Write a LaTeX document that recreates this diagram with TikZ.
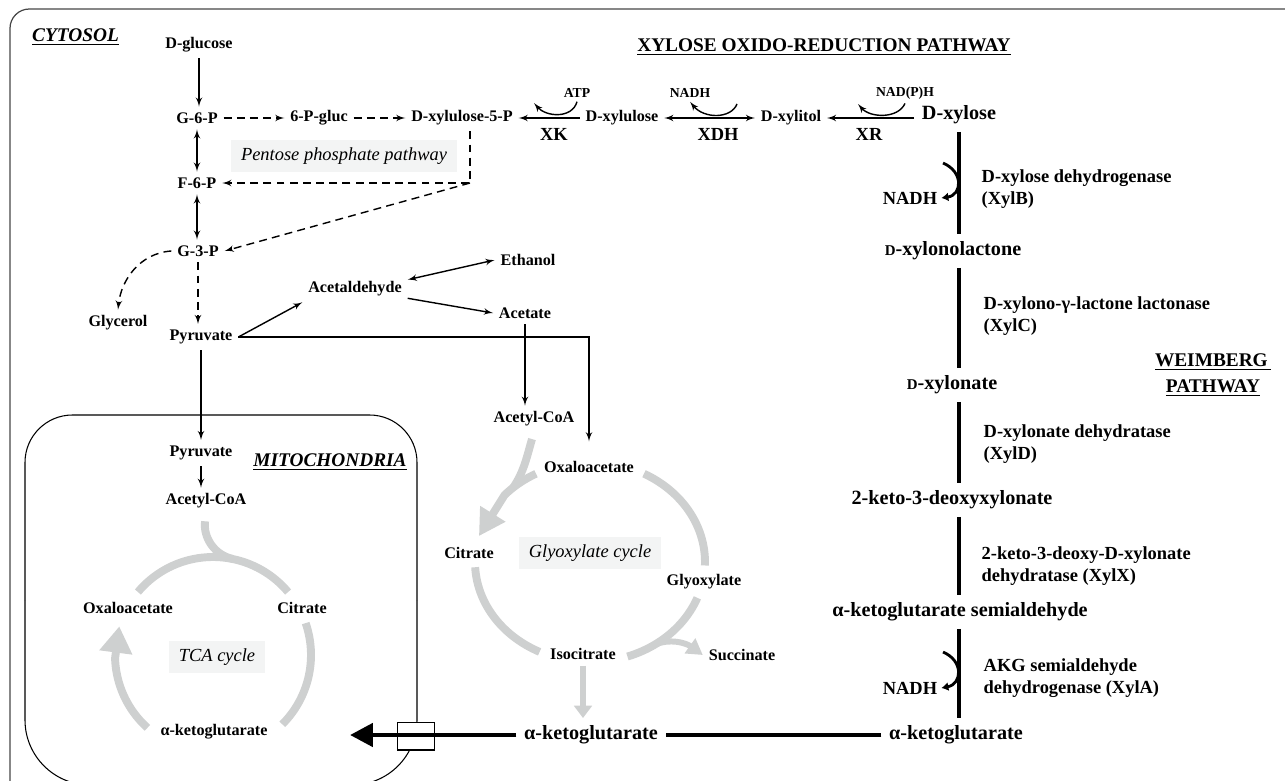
\documentclass[tikz,border=0pt]{standalone}
\usepackage{fontspec}
\setmainfont{Liberation Serif}
\usetikzlibrary{arrows}
\usetikzlibrary{arrows.meta}
\definecolor{cgrey}{RGB}{206,208,208}
\definecolor{cbox}{RGB}{243,244,244}
\definecolor{cframe}{RGB}{70,70,70}
\tikzset{
    lbl/.style={font=\bfseries\fontsize{9.2}{11}\selectfont, inner sep=3pt},
    biglbl/.style={font=\bfseries\fontsize{11.5}{13}\selectfont, inner sep=4pt},
    cofac/.style={font=\bfseries\fontsize{7.8}{9}\selectfont, inner sep=2pt},
    enzk/.style={font=\bfseries\fontsize{10.5}{12}\selectfont, inner sep=2pt},
    enz/.style={font=\bfseries\fontsize{10.5}{12.5}\selectfont, inner sep=0pt, align=left, anchor=west},
    ttl/.style={font=\bfseries\fontsize{11}{14.7}\selectfont, inner sep=2pt},
    pway/.style={font=\itshape\fontsize{10.5}{12}\selectfont, fill=cbox, inner xsep=5.5pt, minimum height=18pt},
    ppdash/.style={dash pattern=on 4.5pt off 3pt},
    cyc/.style={cgrey, line width=4.5pt},
    wline/.style={line width=2.7pt},
    akline/.style={line width=2.8pt},
    wcurl/.style={line width=1.6pt, -{Latex[length=4pt,width=5pt]}}
}
\begin{document}
\begin{tikzpicture}[x=0.02cm, y=-0.02cm, line width=0.8pt]
    \useasboundingbox (0,0) rectangle (1285,781);
    \draw[cframe, line width=0.7pt, rounded corners=11pt] (10,800) |- (1300,9);
    \draw[line width=0.6pt, rounded corners=27pt] (25,600) |- (417,415) -- (417,600);
    \draw[line width=0.6pt, rounded corners=37pt] (25,600) |- (417,785) -- (417,600);

    \node[ttl, anchor=west] (cyt) at (28,37) {\itshape\underline{CYTOSOL}};
    \node[ttl] (xortitle) at (824,47) {\underline{XYLOSE OXIDO-REDUCTION PATHWAY}};
    \node[ttl, align=center] (wbtitle) at (1213,375) {\underline{WEIMBERG\,}\\\underline{PATHWAY}};
    \node[ttl] (mito) at (330,462) {\itshape\underline{MITOCHONDRIA}};

    \node[lbl] (glc) at (199,45) {D-glucose};
    \node[lbl] (g6p) at (197,118) {G-6-P};
    \node[lbl] (p6g) at (319,118) {6-P-gluc};
    \node[lbl] (xu5p) at (462,118) {D-xylulose-5-P};
    \node[lbl] (xu) at (622,118) {D-xylulose};
    \node[lbl] (xol) at (791,118) {D-xylitol};
    \node[biglbl] (xyl) at (959,115) {D-xylose};
    \node[cofac] (atp) at (577,93) {ATP};
    \node[cofac] (nadh0) at (690,93) {NADH};
    \node[cofac] (nadph) at (905,93) {NAD(P)H};
    \node[enzk] (xk) at (554,134) {XK};
    \node[enzk] (xdh) at (718,134) {XDH};
    \node[enzk] (xr) at (869,134) {XR};
    \node[pway] (ppp) at (344,156) {Pentose phosphate pathway};
    \node[lbl] (f6p) at (197,183) {F-6-P};
    \node[lbl] (g3p) at (198,251) {G-3-P};
    \node[lbl] (glyc) at (118,323) {Glycerol};
    \node[lbl] (pyr) at (201,337) {Pyruvate};
    \node[lbl] (acald) at (355,289) {Acetaldehyde};
    \node[lbl] (eth) at (528,260) {Ethanol};
    \node[lbl] (acet) at (525,313) {Acetate};
    \node[lbl] (acoa2) at (534,419) {Acetyl-CoA};
    \node[lbl] (oaa2) at (589,467) {Oxaloacetate};
    \node[lbl] (cit2) at (469,553) {Citrate};
    \node[pway] (glxc) at (590,553) {Glyoxylate cycle};
    \node[lbl] (glx) at (704,582) {Glyoxylate};
    \node[lbl] (icit) at (583,654) {Isocitrate};
    \node[lbl] (succ) at (742,655) {Succinate};
    \node[lbl] (pyr2) at (201,453) {Pyruvate};
    \node[lbl] (acoa1) at (206,501) {Acetyl-CoA};
    \node[lbl] (oaa1) at (128,608) {Oxaloacetate};
    \node[lbl] (cit1) at (302,608) {Citrate};
    \node[pway] (tca) at (217,657) {TCA cycle};
    \node[lbl] (akg1) at (214,732) {α-ketoglutarate};
    \node[biglbl] (akg2) at (591,735) {α-ketoglutarate};
    \node[biglbl] (akg3) at (956,735) {α-ketoglutarate};

    \node[biglbl] (xlac) at (953,251) {{\fontsize{8.5}{10}\selectfont D}-xylonolactone};
    \node[biglbl] (xylnt) at (952,385) {{\fontsize{8.5}{10}\selectfont D}-xylonate};
    \node[biglbl] (kdx) at (952,500) {2-keto-3-deoxyxylonate};
    \node[biglbl] (aks) at (960,612) {α-ketoglutarate semialdehyde};
    \node[enzk] (nadh1) at (910,198) {NADH};
    \node[enzk] (nadh2) at (910,688) {NADH};
    \node[enz] (xylb) at (981,189) {D-xylose dehydrogenase\\(XylB)};
    \node[enz] (xylc) at (983,316) {D-xylono-γ-lactone lactonase\\(XylC)};
    \node[enz] (xyld) at (983,444) {D-xylonate dehydratase\\(XylD)};
    \node[enz] (xylx) at (981,566) {2-keto-3-deoxy-D-xylonate\\dehydratase (XylX)};
    \node[enz] (xyla) at (983,678) {AKG semialdehyde\\dehydrogenase (XylA)};

    \coordinate (pcorner) at (470,183);
    \coordinate (atpend) at (534,103);
    \coordinate (nadhbeg) at (737,104);
    \coordinate (xrend) at (858,104);
    \coordinate (wbeg1) at (943,163);
    \coordinate (wbeg2) at (943,652);
    \coordinate (akgtip) at (350,735);

    \draw[-latex'] (glc.south) -- (glc.south |- g6p.north);
    \draw[latex'-latex'] (g6p.south) -- (f6p.north);
    \draw[latex'-latex'] (f6p.south) -- (f6p.south |- g3p.north);
    \draw[ppdash, -latex'] (g6p) -- (p6g);
    \draw[ppdash, -latex'] (p6g) -- (xu5p);
    \draw[ppdash, -latex'] (xu5p.south -| pcorner) -- (pcorner) -- (f6p.east);
    \draw[ppdash, -latex'] (pcorner) -- (g3p.east);
    \draw[ppdash, -latex'] (g3p.west) .. controls (140,253) and (121,280) .. (glyc.north);
    \draw[ppdash, -latex'] (g3p.south) -- (g3p.south |- pyr.north);

    \draw[-latex'] (xu) -- (xu5p);
    \draw[latex'-latex'] (xu) -- (xol);
    \draw[-latex'] (xyl.west |- xol) -- (xol.east);
    \draw[-latex'] (atp.south) .. controls (572,119) and (546,117) .. (atpend);
    \draw[-latex'] (nadhbeg) .. controls (731,119) and (704,119) .. (nadh0.south);
    \draw[-latex'] (nadph.south) .. controls (898,119) and (870,118) .. (xrend);

    \draw[-latex'] (pyr.east) -- (acald.south west);
    \draw[latex'-latex'] (acald.10) -- (eth.west);
    \draw[-latex'] (acald.-10) -- (acet.west);
    \draw[-latex'] (acet.south) -- (acet.south |- acoa2.north);
    \draw[-latex', shorten >=8pt] (pyr.east) -| (oaa2.north);
    \draw[-latex'] (pyr.south) -- (pyr2.north);
    \draw[-latex'] (pyr2.south) -- (pyr2.south |- acoa1.north);

    \draw[cyc] plot[domain=220:320, samples=40] ({213+98*cos(\x)},{655+98*sin(\x)});
    \draw[cyc] plot[domain=-19:45, samples=30] ({213+98*cos(\x)},{655+98*sin(\x)});
    \draw[cyc, -{Triangle[length=15pt,width=18pt]}] plot[domain=132:178, samples=25] ({213+98*cos(\x)},{655+98*sin(\x)}) -- ({213+98*cos(197)},{655+98*sin(197)});
    \draw[cyc, shorten <=4pt] (acoa1.south) .. controls (203,537) and (214,555) .. (233,559);

    \draw[cyc] plot[domain=-62:2, samples=30] ({590+115*cos(\x)},{562+100*sin(\x)});
    \draw[cyc] plot[domain=21:71, samples=25] ({590+115*cos(\x)},{562+100*sin(\x)});
    \draw[cyc] plot[domain=116:177, samples=30] ({590+115*cos(\x)},{562+100*sin(\x)});
    \draw[cyc, {Triangle[length=15pt,width=16pt]}-] ({590+115*cos(195)},{562+100*sin(195)}) -- plot[domain=222:242, samples=10] ({590+115*cos(\x)},{562+100*sin(\x)});
    \draw[cyc, shorten <=4pt] (acoa2.south) .. controls (527,456) and (524,472) .. ({590+115*cos(228)},{562+100*sin(228)});
    \draw[cyc, line width=3.4pt, -{Triangle[length=9pt,width=10pt]}] ({590+115*cos(56)},{562+100*sin(56)}) .. controls (670,638) and (686,643) .. (succ.west);
    \draw[cyc, line width=3.6pt, -{Triangle[length=7pt,width=10pt]}] (icit.south) -- (icit.south |- akg2.north);

    \draw[wline] (xyl.south) -- (xyl.south |- xlac.north);
    \draw[wline] (xyl.south |- xlac.south) -- (xyl.south |- xylnt.north);
    \draw[wline] (xyl.south |- xylnt.south) -- (xyl.south |- kdx.north);
    \draw[wline] (xyl.south |- kdx.south) -- (xyl.south |- aks.north);
    \draw[wline] (xyl.south |- aks.south) -- (xyl.south |- akg3.north);
    \draw[wcurl] (wbeg1) .. controls (964,172) and (962,195) .. (nadh1.east);
    \draw[wcurl] (wbeg2) .. controls (964,661) and (962,684) .. (nadh2.east);

    \draw[akline] (akg3.west) -- (akg2.east);
    \node[draw, fill=white, line width=0.6pt, minimum width=21.5pt, minimum height=15.9pt, inner sep=0pt] (transp) at (416,736) {};
    \draw[akline, -{Triangle[length=13pt,width=13pt]}] (akg2.west) -- (akgtip);
\end{tikzpicture}
\end{document}
